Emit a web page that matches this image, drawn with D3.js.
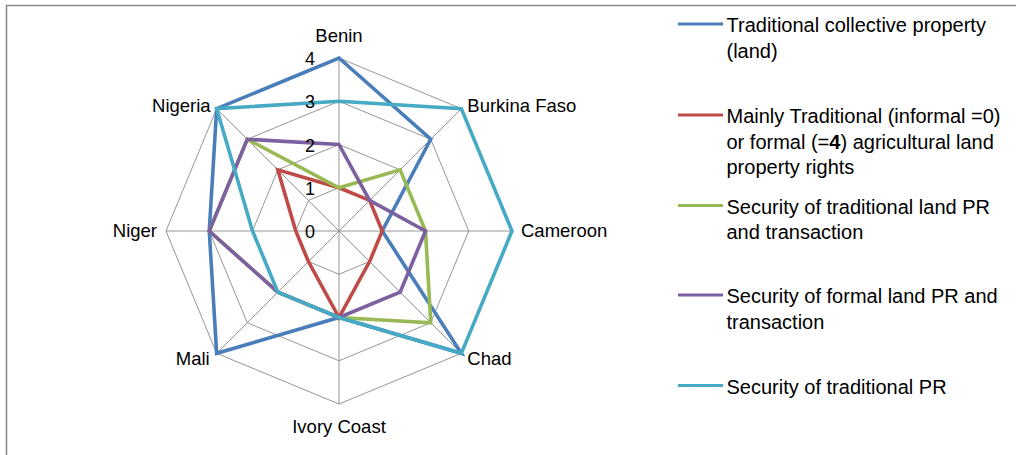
<!DOCTYPE html>
<html><head><meta charset="utf-8">
<script src="https://cdn.jsdelivr.net/npm/d3@7"></script>
<style>html,body{margin:0;padding:0;background:#fff;}svg{display:block;}</style>
</head><body>
<svg id="chart" width="1016" height="455"></svg>
<script>
const countries = ["Benin","Burkina Faso","Cameroon","Chad","Ivory Coast","Mali","Niger","Nigeria"];
const ringTicks = [0,1,2,3,4];
const seriesNames = [
  "Traditional collective property (land)",
  "Mainly Traditional (informal =0) or formal (=4) agricultural land property rights",
  "Security of traditional land PR and transaction",
  "Security of formal land PR and transaction",
  "Security of traditional PR"
];
const seriesColors = ["#4a7ebb","#be4b48","#98b954","#7d60a0","#46aac5"];
const traditionalCollective = [4,3,1,4,2,4,3,4];
const mainlyTraditional     = [1,1,1,1,2,1,1,2];
const securityTradLand      = [1,2,2,3,2,2,3,3];
const securityFormalLand    = [2,1,2,2,2,2,3,3];
const securityTradPR        = [3,4,4,4,2,2,2,4];
const seriesValues = [traditionalCollective, mainlyTraditional, securityTradLand, securityFormalLand, securityTradPR];

const svg = d3.select("#chart");
const font = "'Liberation Sans', Arial, sans-serif";

// border
svg.append("path").attr("d","M6.5,455 L6.5,5.5 L1016,5.5")
  .attr("fill","none").attr("stroke","#8c8c8c").attr("stroke-width",1.6);

const cx = 339, cy = 231;
const r = d3.scaleLinear().domain([0,4]).range([0,173]);
const angle = d3.scalePoint().domain(countries).range([0, 2*Math.PI*(countries.length-1)/countries.length]);
const pt = (c, v) => { const a = angle(c); return [cx + r(v)*Math.sin(a), cy - r(v)*Math.cos(a)]; };

const g = svg.append("g");
// rings
ringTicks.filter(t => t > 0).forEach(t => {
  g.append("path").attr("d", d3.line()(countries.map(c => pt(c,t))) + "Z")
    .attr("fill","none").attr("stroke","#8a8a8a").attr("stroke-width",0.9);
});
// spokes
countries.forEach(c => {
  const [x,y] = pt(c, 4);
  g.append("line").attr("x1",cx).attr("y1",cy).attr("x2",x).attr("y2",y)
    .attr("stroke","#8a8a8a").attr("stroke-width",0.9);
});
// series
seriesValues.forEach((vals,i) => {
  g.append("path").attr("d", d3.line()(countries.map((c,j) => pt(c, vals[j]))) + "Z")
    .attr("fill","none").attr("stroke",seriesColors[i]).attr("stroke-width",3.6)
    .attr("stroke-linejoin","miter");
});
// ring labels
ringTicks.forEach(t => {
  g.append("text").attr("x", cx - 24).attr("y", r.invert ? cy - r(t) + 7 : 0)
    .attr("text-anchor","end").attr("font-family",font).attr("font-size",18).attr("fill","#000")
    .text(t);
});
// axis labels
const labelPos = {
  "Benin":        {dx:0,  dy:-16, anchor:"middle"},
  "Burkina Faso": {dx:6,  dy:3,  anchor:"start"},
  "Cameroon":     {dx:9,  dy:6,  anchor:"start"},
  "Chad":         {dx:6,  dy:12,  anchor:"start"},
  "Ivory Coast":  {dx:0,  dy:29, anchor:"middle"},
  "Mali":         {dx:-7, dy:12,  anchor:"end"},
  "Niger":        {dx:-9, dy:6,  anchor:"end"},
  "Nigeria":      {dx:-6, dy:3,  anchor:"end"}
};
countries.forEach(c => {
  const [x,y] = pt(c,4); const p = labelPos[c];
  g.append("text").attr("x", x+p.dx).attr("y", y+p.dy).attr("text-anchor",p.anchor)
    .attr("font-family",font).attr("font-size",18.5).attr("fill","#000").text(c);
});

// legend
const legendLines = [
  [["Traditional collective property"],["(land)"]],
  [["Mainly Traditional (informal =0)"],["or formal (=","4",") agricultural land"],["property rights"]],
  [["Security of traditional land PR"],["and transaction"]],
  [["Security of formal land PR and"],["transaction"]],
  [["Security of traditional PR"]]
];
const legendY = [24, 115, 205.5, 295, 385.5];
const lg = svg.append("g");
seriesNames.forEach((name,i) => {
  lg.append("line").attr("x1",678).attr("x2",723).attr("y1",legendY[i]).attr("y2",legendY[i])
    .attr("stroke",seriesColors[i]).attr("stroke-width",3.2);
  legendLines[i].forEach((parts,k) => {
    const t = lg.append("text").attr("x",726.5).attr("y",legendY[i] + 8 + k*25.5)
      .attr("font-family",font).attr("font-size",20).attr("fill","#000");
    parts.forEach((s,m) => {
      t.append("tspan").attr("font-weight", (i===1 && k===1 && m===1) ? "bold" : "normal").text(s);
    });
  });
});
</script>
</body></html>
